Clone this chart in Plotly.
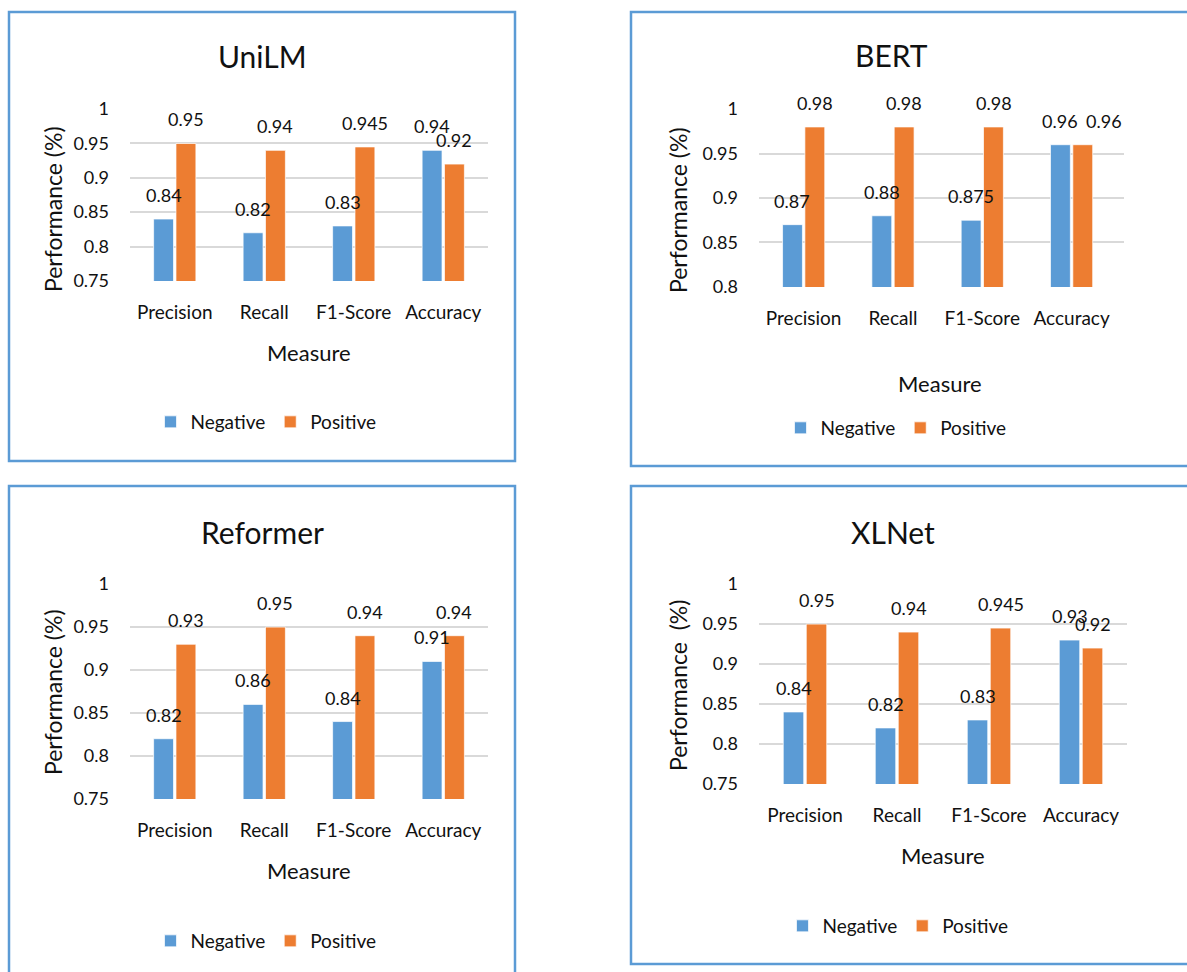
import plotly.graph_objects as go

# ---- data -------------------------------------------------------------
categories = ["Precision", "Recall", "F1-Score", "Accuracy"]

unilm_negative = [0.84, 0.82, 0.83, 0.94]
unilm_positive = [0.95, 0.94, 0.945, 0.92]

bert_negative = [0.87, 0.88, 0.875, 0.96]
bert_positive = [0.98, 0.98, 0.98, 0.96]

reformer_negative = [0.82, 0.86, 0.84, 0.91]
reformer_positive = [0.93, 0.95, 0.94, 0.94]

xlnet_negative = [0.84, 0.82, 0.83, 0.93]
xlnet_positive = [0.95, 0.94, 0.945, 0.92]

ticks_a = [0.75, 0.8, 0.85, 0.9, 0.95, 1.0]
ticks_a_text = ["0.75", "0.8", "0.85", "0.9", "0.95", "1"]
ticks_b = [0.8, 0.85, 0.9, 0.95, 1.0]
ticks_b_text = ["0.8", "0.85", "0.9", "0.95", "1"]

series_names = ["Negative", "Positive"]
series_colors = ["#5B9BD5", "#ED7D31"]

# ---- page geometry (pixels) ------------------------------------------
W, H = 1187, 972
FONT = "Lato, 'Open Sans', sans-serif"
TXT = "#111111"
BARGAP, BARGROUPGAP = 0.5, 0.11


def fx(p):
    return p / W


def fy(p):
    return 1 - p / H


panels = [
    dict(title="UniLM", neg=unilm_negative, pos=unilm_positive,
         box=(9, 12, 515, 461), plot=(130, 109, 488, 281),
         yrange=(0.75, 1.0), tv=ticks_a, tt=ticks_a_text,
         title_xy=(262, 56), ytitle="Performance (%)", ytitle_xy=(53, 209),
         xtitle_xy=(309, 352), legend_xy=(266, 422), nudge={}),
    dict(title="BERT", neg=bert_negative, pos=bert_positive,
         box=(631, 12, 1192, 466), plot=(759, 109, 1124, 287),
         yrange=(0.8, 1.0), tv=ticks_b, tt=ticks_b_text,
         title_xy=(891, 55), ytitle="Performance (%)", ytitle_xy=(678, 210),
         xtitle_xy=(940, 383), legend_xy=(896, 428),
         nudge={("Positive", "Accuracy"): 21}),
    dict(title="Reformer", neg=reformer_negative, pos=reformer_positive,
         box=(9, 486, 515, 980), plot=(130, 584, 488, 799),
         yrange=(0.75, 1.0), tv=ticks_a, tt=ticks_a_text,
         title_xy=(262, 532), ytitle="Performance (%)", ytitle_xy=(53, 692),
         xtitle_xy=(309, 870), legend_xy=(266, 941), nudge={}),
    dict(title="XLNet", neg=xlnet_negative, pos=xlnet_positive,
         box=(631, 486, 1192, 964), plot=(759, 584, 1127, 784),
         yrange=(0.75, 1.0), tv=ticks_a, tt=ticks_a_text,
         title_xy=(893, 532), ytitle="Performance\u00a0 (%)", ytitle_xy=(678, 686),
         xtitle_xy=(943, 855), legend_xy=(898, 926), nudge={}),
]

fig = go.Figure()
annotations = []
shapes = []
layout_extra = {}

for i, p in enumerate(panels):
    sfx = "" if i == 0 else str(i + 1)
    xa, ya = "x" + sfx, "y" + sfx
    leg = "legend" + sfx
    x0, y0, x1, y1 = p["plot"]

    for name, color, vals in zip(series_names, series_colors, [p["neg"], p["pos"]]):
        fig.add_trace(go.Bar(
            x=categories, y=vals, name=name, xaxis=xa, yaxis=ya, legend=leg,
            marker=dict(color=color, line=dict(color="rgba(255,255,255,0.7)", width=1)),
        ))

    layout_extra["xaxis" + sfx] = dict(
        domain=[fx(x0), fx(x1)], anchor=ya, showgrid=False, showline=False,
        zeroline=False, ticks="", ticklabelstandoff=18, automargin=False,
        tickfont=dict(family=FONT, size=19, color=TXT),
    )
    layout_extra["yaxis" + sfx] = dict(
        domain=[fy(y1), fy(y0)], anchor=xa,
        range=[p["yrange"][0] - 0.0002, p["yrange"][1] + 0.0002],
        tickmode="array", tickvals=p["tv"], ticktext=p["tt"],
        showgrid=True, gridcolor="#D9D9D9", gridwidth=1.5,
        showline=False, zeroline=False, ticks="", ticklabelstandoff=20,
        automargin=False, tickfont=dict(family=FONT, size=18, color=TXT),
    )
    lx, ly = p["legend_xy"]
    layout_extra[leg] = dict(
        orientation="h", x=fx(lx), y=fy(ly), xanchor="center", yanchor="middle",
        font=dict(family=FONT, size=19, color=TXT), bgcolor="rgba(0,0,0,0)",
        itemwidth=30, tracegroupgap=0,
    )

    # data labels above each bar
    cat_w = (x1 - x0) / len(categories)
    off = cat_w * (1 - BARGAP) / 4
    for sign, name, vals in [(-1, "Negative", p["neg"]), (1, "Positive", p["pos"])]:
        for c, v in zip(categories, vals):
            annotations.append(dict(
                x=c, y=v, xref=xa, yref=ya, text=f"{v:g}", showarrow=False,
                xshift=sign * off + p["nudge"].get((name, c), 0), yshift=24,
                xanchor="center", yanchor="middle",
                font=dict(family=FONT, size=18, color=TXT),
            ))

    tx, ty = p["title_xy"]
    annotations.append(dict(x=fx(tx), y=fy(ty), xref="paper", yref="paper",
                            text=p["title"], showarrow=False, xanchor="center",
                            yanchor="middle", font=dict(family=FONT, size=30, color=TXT)))
    yx, yy = p["ytitle_xy"]
    annotations.append(dict(x=fx(yx), y=fy(yy), xref="paper", yref="paper",
                            text=p["ytitle"], showarrow=False, textangle=-90,
                            xanchor="center", yanchor="middle",
                            font=dict(family=FONT, size=23, color=TXT)))
    mx, my = p["xtitle_xy"]
    annotations.append(dict(x=fx(mx), y=fy(my), xref="paper", yref="paper",
                            text="Measure", showarrow=False, xanchor="center",
                            yanchor="middle", font=dict(family=FONT, size=22, color=TXT)))

    bx0, by0, bx1, by1 = p["box"]
    shapes.append(dict(type="rect", xref="paper", yref="paper",
                       x0=fx(bx0), x1=fx(bx1), y0=fy(by1), y1=fy(by0),
                       line=dict(color="#5B9BD5", width=2.5), fillcolor="rgba(0,0,0,0)"))

fig.update_layout(
    width=W, height=H, margin=dict(l=0, r=0, t=0, b=0, pad=0, autoexpand=False),
    paper_bgcolor="white", plot_bgcolor="white",
    barmode="group", bargap=BARGAP, bargroupgap=BARGROUPGAP,
    annotations=annotations, shapes=shapes,
    font=dict(family=FONT, color=TXT),
    **layout_extra,
)

fig.write_html("out.html")
